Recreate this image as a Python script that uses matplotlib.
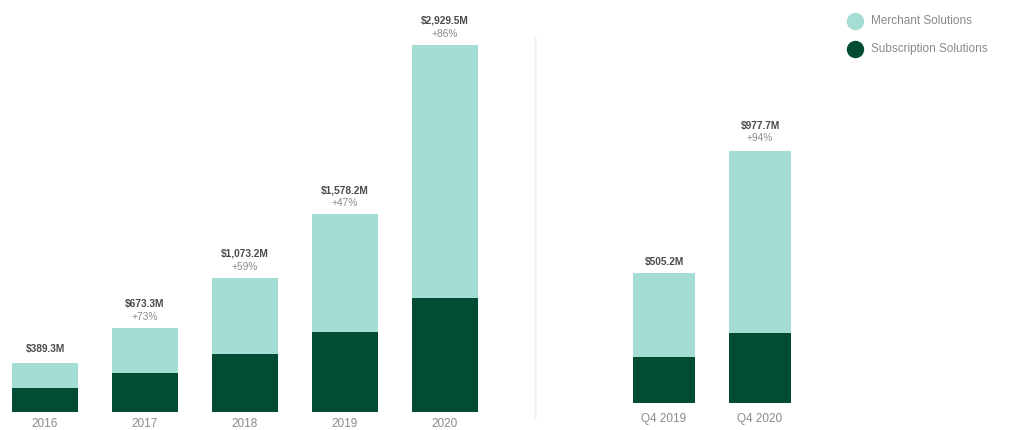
import numpy as np
import matplotlib
matplotlib.use("Agg")
import matplotlib.pyplot as plt
from matplotlib.lines import Line2D

plt.rcParams['font.family'] = ['Liberation Sans', 'DejaVu Sans']

LIGHT = '#a3ddd3'
DARK = '#024c36'

# annual revenue, $M
years = ['2016', '2017', '2018', '2019', '2020']
subscription = [188.6, 310.0, 464.9, 642.2, 908.8]
merchant = [200.7, 363.3, 608.3, 936.0, 2020.7]
totals = ['$389.3M', '$673.3M', '$1,073.2M', '$1,578.2M', '$2,929.5M']
growth = ['', '+73%', '+59%', '+47%', '+86%']

# fourth quarter revenue, $M
quarters = ['Q4 2019', 'Q4 2020']
q_subscription = [180.0, 272.0]
q_merchant = [325.2, 705.7]
q_totals = ['$505.2M', '$977.7M']
q_growth = ['', '+94%']

W, H = 1011, 430
fig = plt.figure(figsize=(W / 100, H / 100), dpi=100)
fig.patch.set_facecolor('white')


def panel(left, bottom, width, height, xlim, ylim, pad):
    ax = fig.add_axes([left / W, bottom / H, width / W, height / H])
    ax.set_xlim(*xlim)
    ax.set_ylim(*ylim)
    for s in ax.spines.values():
        s.set_visible(False)
    ax.set_yticks([])
    ax.tick_params(axis='x', length=0, pad=pad, labelsize=8.5, labelcolor='#8a8a8a')
    ax.patch.set_alpha(0)
    return ax


def stacked(ax, labels, sub, mer, tot, pct, bw, gap_hi, gap_lo, gap_one):
    x = np.arange(len(labels))
    ax.bar(x, sub, bw, color=DARK, linewidth=0)
    ax.bar(x, mer, bw, bottom=sub, color=LIGHT, linewidth=0)
    ax.set_xticks(x)
    ax.set_xticklabels(labels)
    tops = np.array(sub) + np.array(mer)
    for xi, top, t, p in zip(x, tops, tot, pct):
        off = gap_hi if p else gap_one
        ax.annotate(t, (xi, top), xytext=(0, off), textcoords='offset points',
                    ha='center', va='center', fontsize=7.3, fontweight='bold',
                    color='#4a4a4a')
        if p:
            ax.annotate(p, (xi, top), xytext=(0, gap_lo), textcoords='offset points',
                        ha='center', va='center', fontsize=7.3, color='#8a8a8a')


# left: yearly bars, 100 px apart, baseline 18 px from bottom
ax1 = panel(0, 18, 500, 400, (-0.45, 4.55), (0, 400 / 0.1253), 4)
stacked(ax1, years, subscription, merchant, totals, growth, 0.66, 17.3, 7.9, 10)

# right: quarterly bars, 96 px apart, baseline 27 px from bottom
ax2 = panel(600, 27, 250, 390, (-0.667, 1.937), (0, 390 / 0.2578), 7)
stacked(ax2, quarters, q_subscription, q_merchant, q_totals, q_growth, 0.646, 18, 9.3, 8)

# faint divider between the two groups
fig.add_artist(Line2D([535 / W, 535 / W], [1 - 38 / H, 1 - 417 / H],
                      transform=fig.transFigure, color='#f4f4f4', lw=2))

# legend
for yy, lab, col in [(21, 'Merchant Solutions', LIGHT), (49, 'Subscription Solutions', DARK)]:
    fig.add_artist(Line2D([855 / W], [1 - yy / H], marker='o', markersize=11.5,
                          color=col, linestyle='none', transform=fig.transFigure))
    fig.text(871 / W, 1 - yy / H, lab, ha='left', va='center', fontsize=8.5,
             color='#8a8a8a')

fig.savefig('out.png', dpi=100, facecolor='white')
